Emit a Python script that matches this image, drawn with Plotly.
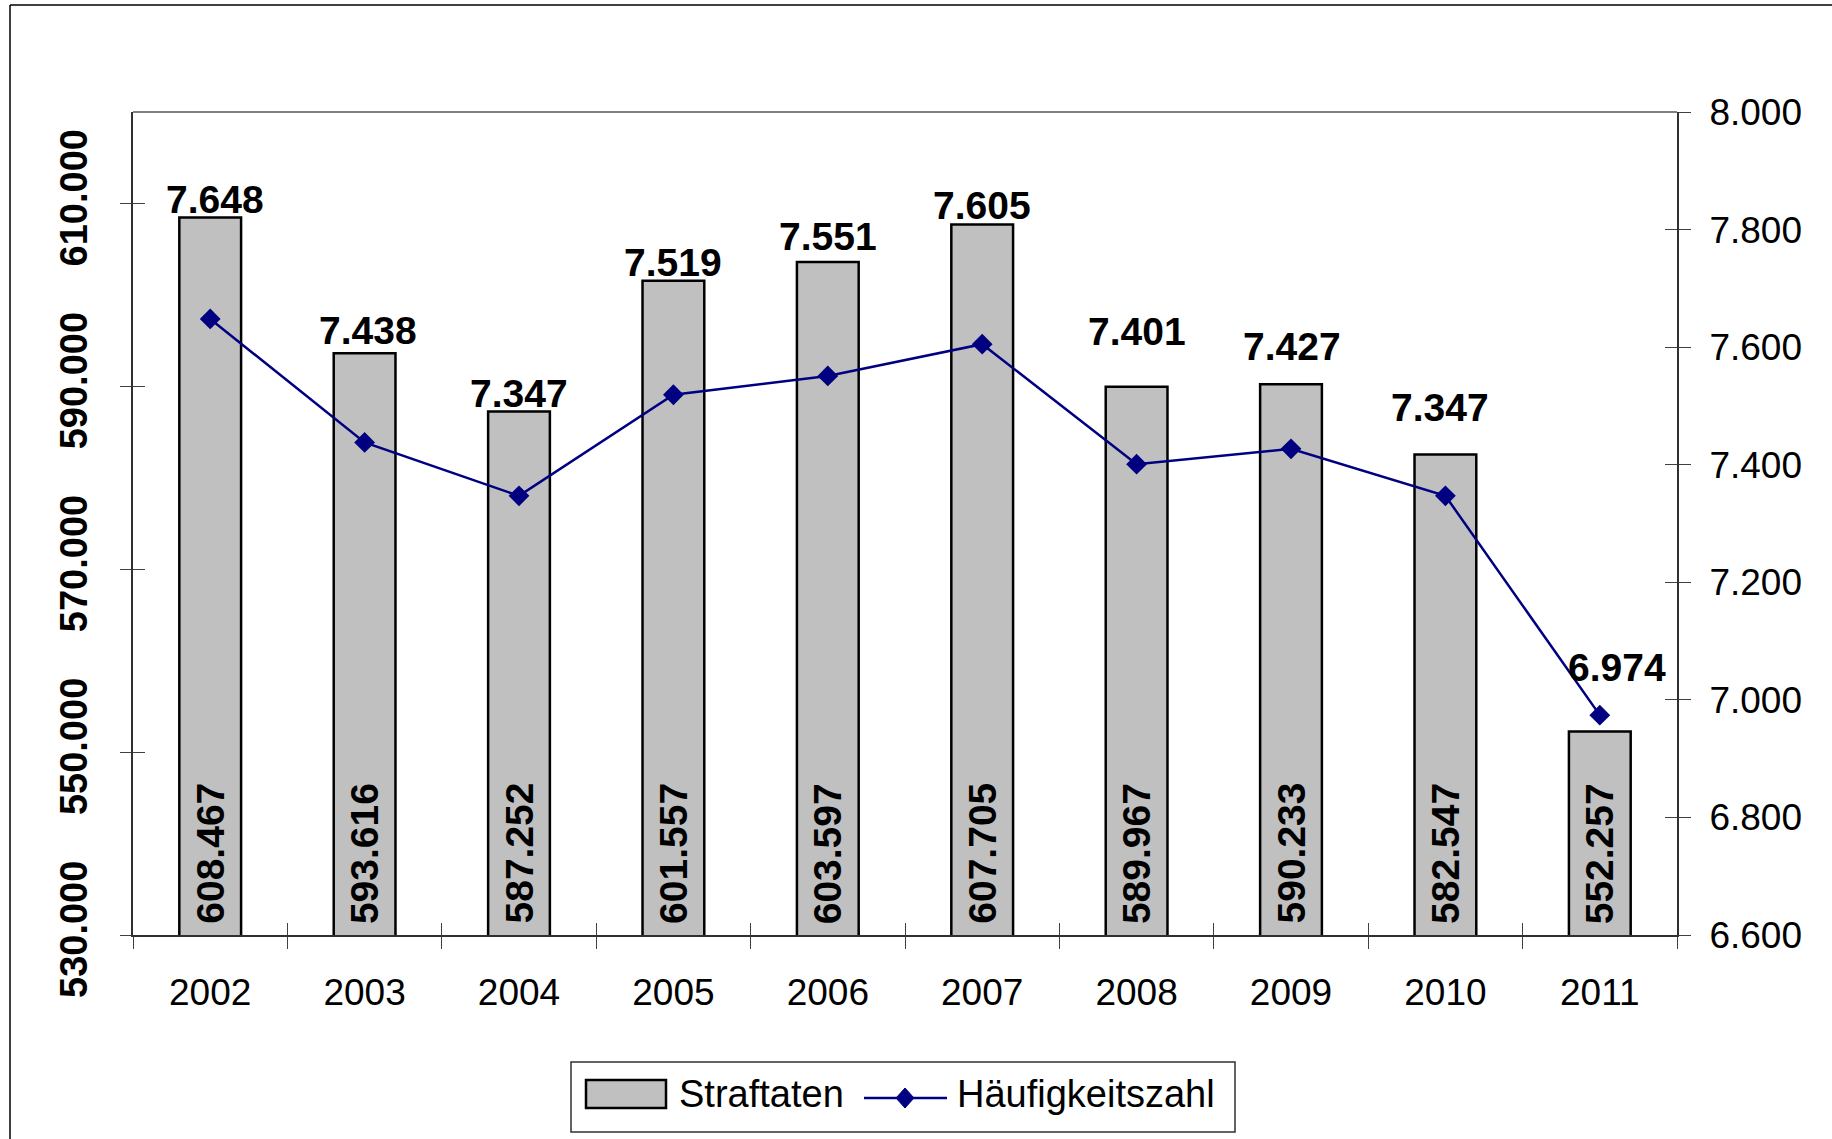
import plotly.graph_objects as go

# ---- data ----
years = ["2002", "2003", "2004", "2005", "2006", "2007", "2008", "2009", "2010", "2011"]
straftaten = [608467, 593616, 587252, 601557, 603597, 607705, 589967, 590233, 582547, 552257]
haeufigkeitszahl = [7648, 7438, 7347, 7519, 7551, 7605, 7401, 7427, 7347, 6974]

left_range = [530000, 620000]
right_range = [6600, 8000]
left_ticks = [530000, 550000, 570000, 590000, 610000]
right_ticks = [6600, 6800, 7000, 7200, 7400, 7600, 7800, 8000]

# label placement (pixels above bar top / horizontal nudge)
label_yshift = [18, 23, 18, 18, 26, 19, 55, 38, 47, 64]
label_xshift = [5, 3, 0, 0, 0, 0, 0, 1, -5, 17]

FONT = "Liberation Sans, Arial, sans-serif"

W, H = 1832, 1139
ML, MR, MT, MB = 133, 155, 112, 204
PW, PH = W - ML - MR, H - MT - MB


def px(x):
    return (x - ML) / PW


def py(y):
    return (MT + PH - y) / PH


def de(n):
    return f"{n:,}".replace(",", ".")


fig = go.Figure()

fig.add_trace(go.Bar(
    x=years, y=straftaten, name="Straftaten",
    marker=dict(color="#C0C0C0", line=dict(color="#000000", width=2.5)),
    width=0.4, hoverinfo="skip", showlegend=False,
    xaxis="x", yaxis="y",
))

fig.add_trace(go.Scatter(
    x=years, y=haeufigkeitszahl, name="Häufigkeitszahl",
    mode="lines+markers",
    line=dict(color="#000080", width=2.5),
    marker=dict(symbol="diamond", size=16, color="#000080"),
    hoverinfo="skip", showlegend=False,
    xaxis="x", yaxis="y2",
))

# dummy traces so the overlay axes (inside tick halves) are drawn
fig.add_trace(go.Scatter(x=years, y=[None] * len(years), xaxis="x2", yaxis="y3",
                         showlegend=False, hoverinfo="skip", mode="lines"))
fig.add_trace(go.Scatter(x=years, y=[None] * len(years), xaxis="x2", yaxis="y4",
                         showlegend=False, hoverinfo="skip", mode="lines"))

# value labels
for i, (sv, hv) in enumerate(zip(straftaten, haeufigkeitszahl)):
    # Häufigkeitszahl above the bar
    fig.add_annotation(
        x=i, y=sv, xref="x", yref="y", text=de(hv), showarrow=False,
        yanchor="middle", xanchor="center",
        yshift=label_yshift[i], xshift=label_xshift[i],
        font=dict(family=FONT, size=39, color="#000000", weight="bold"),
    )
    # Straftaten inside the bar, rotated
    fig.add_annotation(
        x=i, y=left_range[0], xref="x", yref="y", text=de(sv), showarrow=False,
        textangle=-90, yanchor="bottom", xanchor="center", yshift=9,
        font=dict(family=FONT, size=39, color="#000000", weight="bold"),
    )

# ---- custom legend (Excel style) ----
LEG_FONT = dict(family=FONT, size=38, color="#000000")
fig.add_annotation(x=px(677), y=py(1094), xref="paper", yref="paper", text="Straftaten",
                   showarrow=False, xanchor="left", yanchor="middle", font=LEG_FONT)
fig.add_annotation(x=px(955), y=py(1094), xref="paper", yref="paper", text="Häufigkeitszahl",
                   showarrow=False, xanchor="left", yanchor="middle", font=LEG_FONT)

dcx, dcy = 905, 1098
diamond = (f"M {px(dcx - 9)} {py(dcy)} L {px(dcx)} {py(dcy - 10)} "
           f"L {px(dcx + 9)} {py(dcy)} L {px(dcx)} {py(dcy + 10)} Z")

axis_line = dict(showline=True, linecolor="#303030", linewidth=2)
xr = [-0.5, len(years) - 0.5]

fig.update_layout(
    width=W, height=H,
    margin=dict(l=ML, r=MR, t=MT, b=MB),
    paper_bgcolor="white", plot_bgcolor="white",
    separators=",.",
    font=dict(family=FONT, color="#000000"),
    showlegend=False,
    xaxis=dict(
        type="category", categoryorder="array", categoryarray=years,
        range=xr, autorange=False,
        tickson="boundaries", ticks="outside", ticklen=12, tickcolor="#404040", tickwidth=1,
        tickfont=dict(family=FONT, size=37, color="#000000"),
        tickangle=0, ticklabelstandoff=24,
        showgrid=False, zeroline=False, **axis_line,
    ),
    xaxis2=dict(
        type="category", categoryorder="array", categoryarray=years,
        range=xr, autorange=False,
        overlaying="x", anchor="y", side="bottom",
        tickson="boundaries", ticks="inside", ticklen=12, tickcolor="#404040", tickwidth=1,
        showticklabels=False, showgrid=False, zeroline=False, showline=False,
    ),
    yaxis=dict(
        range=left_range, autorange=False, tickmode="array", tickvals=left_ticks,
        tickformat=",.0f", tickangle=-90,
        ticks="outside", ticklen=11, tickcolor="#404040", tickwidth=1,
        tickfont=dict(family=FONT, size=38, color="#000000", weight="bold"),
        ticklabelstandoff=18,
        showgrid=False, zeroline=False, **axis_line,
    ),
    yaxis2=dict(
        range=right_range, autorange=False, tickmode="array", tickvals=right_ticks,
        tickformat=",.0f", overlaying="y", side="right", anchor="x",
        ticks="outside", ticklen=12, tickcolor="#404040", tickwidth=1,
        tickfont=dict(family=FONT, size=37, color="#000000"),
        ticklabelstandoff=11,
        showgrid=False, zeroline=False, **axis_line,
    ),
    yaxis3=dict(
        range=left_range, autorange=False, tickmode="array", tickvals=left_ticks,
        overlaying="y", side="left", anchor="x2",
        ticks="inside", ticklen=12, tickcolor="#404040", tickwidth=1,
        showticklabels=False, showgrid=False, zeroline=False, showline=False,
    ),
    yaxis4=dict(
        range=right_range, autorange=False, tickmode="array", tickvals=right_ticks,
        overlaying="y", side="right", anchor="x2",
        ticks="inside", ticklen=12, tickcolor="#404040", tickwidth=1,
        showticklabels=False, showgrid=False, zeroline=False, showline=False,
    ),
    shapes=[
        # top border of plot area
        dict(type="line", xref="paper", yref="paper", x0=0, x1=1, y0=1, y1=1,
             line=dict(color="#808080", width=2), layer="above"),
        # outer chart border (top and left edges visible)
        dict(type="line", xref="paper", yref="paper", x0=px(10), x1=px(W), y0=py(5), y1=py(5),
             line=dict(color="#000000", width=1.5)),
        dict(type="line", xref="paper", yref="paper", x0=px(10), x1=px(10), y0=py(5), y1=py(H),
             line=dict(color="#000000", width=1.5)),
        # legend box
        dict(type="rect", xref="paper", yref="paper", x0=px(571), x1=px(1235), y0=py(1132), y1=py(1062),
             line=dict(color="#303030", width=1.5), fillcolor="white", layer="below"),
        # legend bar swatch
        dict(type="rect", xref="paper", yref="paper", x0=px(586), x1=px(666), y0=py(1108), y1=py(1080),
             line=dict(color="#000000", width=2.5), fillcolor="#C0C0C0"),
        # legend line swatch
        dict(type="line", xref="paper", yref="paper", x0=px(864), x1=px(947), y0=py(dcy), y1=py(dcy),
             line=dict(color="#000080", width=2.5)),
        dict(type="path", xref="paper", yref="paper", path=diamond,
             line=dict(color="#000080", width=1), fillcolor="#000080"),
    ],
)

fig.write_html("out.html", config={"displayModeBar": False},
               post_script="document.body.style.margin='0';")
